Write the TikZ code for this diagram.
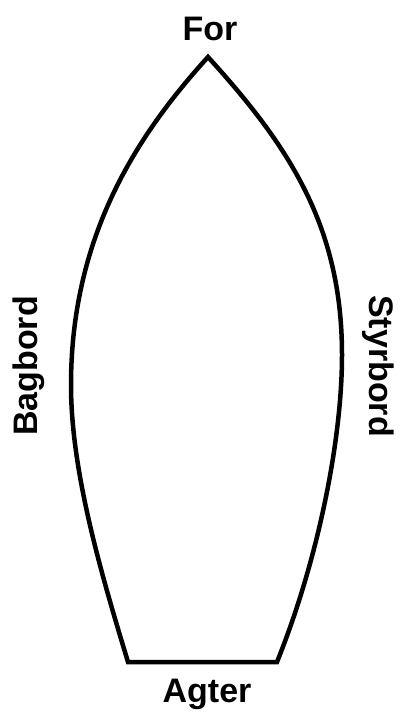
\documentclass[tikz,border=0pt]{standalone}
\usepackage{fontspec}
\setmainfont{Liberation Sans}
\begin{document}
\begin{tikzpicture}[x=1pt,y=-1pt,
  lbl/.style={font=\bfseries\fontsize{34}{40}\selectfont, inner sep=0pt, anchor=base},
  hull/.style={line width=4.5pt, line join=miter, black}]
\useasboundingbox (0,0) rectangle (401,714);
\fill[white] (0,0) rectangle (401,714);
\draw[hull] (208,57) .. controls (138,134) and (71,235) .. (71,385)
  .. controls (71,470) and (100,570) .. (128,662)
  -- (277,662)
  .. controls (318,560) and (342,440) .. (342,355)
  .. controls (342,225) and (288,145) .. cycle;
\node[lbl] (for) at (210,41) {For};
\node[lbl] (agter) at (207,702) {Agter};
\node[lbl, rotate=90] (bagbord) at (37,366) {Bagbord};
\node[lbl, rotate=-90] (styrbord) at (369,366) {Styrbord};
\end{tikzpicture}
\end{document}
